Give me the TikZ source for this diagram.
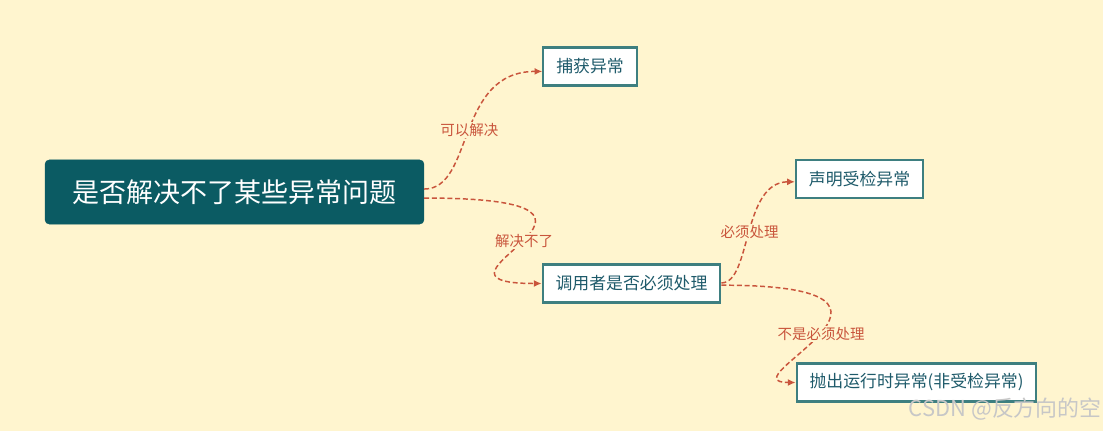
\documentclass[tikz,border=0pt]{standalone}
\usepackage{fontspec}
\setmainfont{Noto Sans CJK SC}
\usepackage{tikz}
\usetikzlibrary{arrows.meta,positioning}
\definecolor{map-bg}{HTML}{FFF5CF}
\definecolor{map-teal}{HTML}{0B5B63}
\definecolor{map-frame}{HTML}{3E7F80}
\definecolor{map-text}{HTML}{1E5A6A}
\definecolor{map-link}{HTML}{C9553C}
\tikzset{
  map-root/.style={fill=map-teal, draw=map-teal, rounded corners=3pt, text=white,
    font=\fontsize{19.2pt}{22pt}\selectfont, inner xsep=19.5pt, minimum height=1.6cm},
  map-topic/.style={draw=map-frame, fill=white, line width=1.5pt, text=map-text,
    font=\fontsize{12pt}{14pt}\selectfont, inner xsep=9.2pt, minimum height=0.95cm},
  map-link/.style={draw=map-link, line width=1.05pt, dash pattern=on 3.5pt off 2pt,
    -{Latex[length=5.5pt,width=5pt]}},
  map-label/.style={text=map-link, fill=map-bg, inner sep=1pt,
    font=\fontsize{10.3pt}{12pt}\selectfont}
}

\begin{document}
\begin{tikzpicture}[x=0.025cm, y=-0.025cm]
  \fill[map-bg] (0,0) rectangle (1103,431);
  \useasboundingbox (0,0) rectangle (1103,431);
  \node[map-root] (root) at (234.5,192) {是否解决不了某些异常问题};
  \node[map-topic] (catch) at (590,66.5) {捕获异常};
  \node[map-topic] (caller) at (631.5,283.5) {调用者是否必须处理};
  \node[map-topic] (declare) at (859.5,179) {声明受检异常};
  \node[map-topic] (throwrt) at (916.5,382.5) {抛出运行时异常(非受检异常)};
  \draw[map-link] ([yshift=2.1pt]root.east) .. controls +(50,0) and +(-87,0) .. node[map-label] {可以解决} ([yshift=-3.5pt]catch.west);
  \draw[map-link] ([yshift=-4.3pt]root.east) .. controls +(255,0) and +(-145,0) .. node[map-label] {解决不了} (caller.west);
  \draw[map-link] ([yshift=0.4pt]caller.east) .. controls +(30,0) and +(-53,0) .. node[map-label] {必须处理} ([yshift=-2pt]declare.west);
  \draw[map-link] ([yshift=-1.2pt]caller.east) .. controls +(240,0) and +(-73,0) .. node[map-label] {不是必须处理} (throwrt.west);
  % watermark
  \node[anchor=east, inner sep=0pt, text=black!22, font=\fontsize{15.6pt}{18pt}\selectfont] (mark) at (1102,409) {CSDN @反方向的空};
\end{tikzpicture}
\end{document}
